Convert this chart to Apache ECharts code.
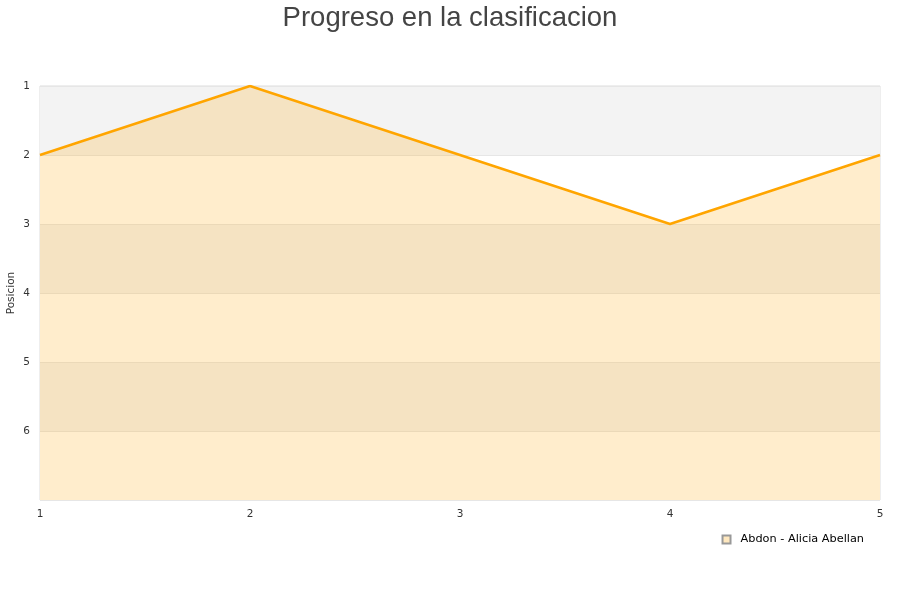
<!DOCTYPE html>
<html><head><meta charset="utf-8">
<script src="https://cdn.jsdelivr.net/npm/echarts@6/dist/echarts.min.js"></script>
<style>html,body{margin:0;padding:0;background:#fff}#c{width:900px;height:600px}</style>
</head><body><div id="c"></div>
<script>
var jornadas = ['1','2','3','4','5'];
var posiciones = [2, 1, 2, 3, 2];
var serieNombre = 'Abdon - Alicia Abellan';
var titulo = 'Progreso en la clasificacion';
var ejeY = 'Posicion';

var chart = echarts.init(document.getElementById('c'));
chart.setOption({
  animation: false,
  backgroundColor: '#fff',
  title: {
    text: titulo, left: 'center', top: -1,
    textStyle: {fontFamily: 'Liberation Sans, Arial, sans-serif', fontSize: 27.5, fontWeight: 'normal', color: '#444'}
  },
  grid: {left: 40, right: 20, top: 86, bottom: 100, outerBoundsMode: 'none', containLabel: false,
    show: true, borderColor: '#ddd', borderWidth: 1, backgroundColor: 'transparent'},
  legend: {
    data: [serieNombre], right: 31, top: 529, icon: 'rect', itemWidth: 8, itemHeight: 8,
    textStyle: {fontFamily: 'DejaVu Sans, sans-serif', fontSize: 11.3, color: '#000', padding: [0, 0, 0, 5]}
  },
  xAxis: {
    type: 'category', data: jornadas, boundaryGap: false,
    axisLine: {show: false}, axisTick: {show: false},
    axisLabel: {color: '#333', fontSize: 10.5, fontFamily: 'DejaVu Sans, sans-serif', margin: 9},
    splitLine: {show: false}
  },
  yAxis: {
    type: 'value', inverse: true, min: 1, max: 7, interval: 1,
    name: ejeY, nameLocation: 'middle', nameGap: 23, nameMoveOverlap: false,
    nameTextStyle: {fontFamily: 'DejaVu Sans, sans-serif', fontSize: 10.5, color: '#333'},
    axisLine: {show: false}, axisTick: {show: false},
    axisLabel: {color: '#333', fontSize: 10.5, fontFamily: 'DejaVu Sans, sans-serif', margin: 10,
      formatter: function (v) { return v === 7 ? '' : String(v); }},
    splitLine: {show: true, lineStyle: {color: '#e6e6e6'}},
    splitArea: {show: true, areaStyle: {color: ['#f3f3f3', '#ffffff']}}
  },
  series: [{
    name: serieNombre, type: 'line', data: posiciones, showSymbol: false, symbol: 'none',
    lineStyle: {color: '#ffa500', width: 2.5},
    itemStyle: {color: '#ffe8bf', borderColor: '#999', borderWidth: 1},
    areaStyle: {color: 'rgba(255,165,0,0.2)', opacity: 1, origin: 'end'}
  }]
});
</script></body></html>
